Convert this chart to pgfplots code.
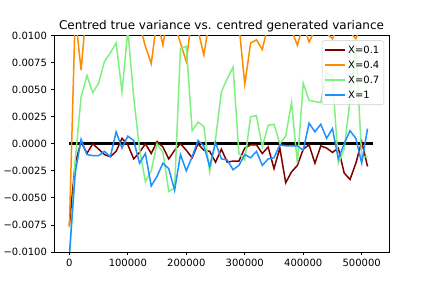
\documentclass[border=0pt]{standalone}
\usepackage{pgfplots}
\pgfplotsset{compat=1.18}
\usepackage{pgfplotstable}
\usepackage{fontspec}
\setmainfont{DejaVu Sans}
\definecolor{cRed}{HTML}{800000}
\definecolor{cOrange}{HTML}{FF8C00}
\definecolor{cGreen}{HTML}{80F080}
\definecolor{cBlue}{HTML}{1E90FF}

\pgfplotstableread{
i a b c d
0 -0.0075 -0.0077 -0.0110 -0.0102
1 -0.0018 0.0120 -0.0015 -0.0027
2 0.0002 0.0068 0.0043 0.0004
3 -0.0009 0.0130 0.0063 -0.0010
4 0.0000 0.0150 0.0047 -0.0011
5 -0.0005 0.0140 0.0056 -0.0011
6 -0.0010 0.0160 0.0076 -0.0007
7 -0.0012 0.0150 0.0084 -0.0012
8 -0.0007 0.0130 0.0093 0.0011
9 0.0005 0.0120 0.0048 -0.0004
10 -0.0001 0.0099 0.0105 0.0007
11 -0.0014 0.0120 0.0043 0.0003
12 -0.0008 0.0110 -0.0005 -0.0018
13 0.0000 0.0090 -0.0035 -0.0009
14 -0.0009 0.0074 -0.0025 -0.0039
15 0.0002 0.0115 0.0000 -0.0030
16 -0.0003 0.0091 -0.0008 -0.0018
17 -0.0014 0.0125 -0.0044 -0.0023
18 -0.0006 0.0110 -0.0041 -0.0043
19 0.0000 0.0093 0.0088 -0.0010
20 -0.0006 0.0076 0.0090 -0.0025
21 -0.0013 0.0120 0.0012 -0.0012
22 0.0000 0.0105 0.0020 0.0003
23 -0.0006 0.0082 0.0016 -0.0002
24 -0.0007 0.0115 -0.0026 -0.0021
25 -0.0017 0.0130 0.0004 0.0001
26 -0.0005 0.0140 0.0048 -0.0014
27 -0.0017 0.0130 0.0060 -0.0015
28 -0.0016 0.0120 0.0071 -0.0024
29 -0.0016 0.0110 -0.0009 -0.0020
30 -0.0004 0.0055 -0.0015 -0.0010
31 -0.0001 0.0093 0.0025 -0.0013
32 -0.0001 0.0096 0.0026 -0.0007
33 -0.0009 0.0087 -0.0003 -0.0020
34 -0.0003 0.0110 0.0017 -0.0014
35 -0.0023 0.0120 0.0018 -0.0013
36 -0.0004 0.0130 0.0000 -0.0001
37 -0.0036 0.0110 0.0007 -0.0002
38 -0.0026 0.0105 0.0038 -0.0002
39 -0.0020 0.0091 -0.0018 -0.0002
40 -0.0005 0.0110 0.0056 -0.0006
41 -0.0001 0.0094 0.0040 0.0019
42 -0.0018 0.0105 0.0039 0.0011
43 -0.0002 0.0110 0.0038 0.0018
44 -0.0004 0.0102 0.0066 0.0005
45 -0.0008 0.0097 0.0062 0.0014
46 -0.0004 0.0110 -0.0018 -0.0014
47 -0.0027 0.0120 -0.0005 0.0000
48 -0.0033 0.0103 0.0040 0.0012
49 -0.0018 0.0097 0.0090 0.0005
50 0.0002 0.0110 -0.0012 -0.0018
51 -0.0021 0.0105 -0.0012 0.0014
}\datatable

\begin{document}
\begin{tikzpicture}
\path[use as bounding box] (0,0) rectangle (432pt,288pt);
\begin{axis}[
  at={(54pt,36pt)}, anchor=south west,
  scale only axis, width=335pt, height=216.5pt,
  xmin=-26300, xmax=546700, ymin=-0.01, ymax=0.01,
  xtick={0,100000,200000,300000,400000,500000},
  xticklabels={0,100000,200000,300000,400000,500000},
  ytick={-0.01,-0.0075,-0.005,-0.0025,0,0.0025,0.005,0.0075,0.01},
  yticklabels={−0.0100,−0.0075,−0.0050,−0.0025,0.0000,0.0025,0.0050,0.0075,0.0100},
  scaled ticks=false,
  tick align=outside, tick pos=left,
  major tick length=3.5pt,
  every tick/.style={black, line width=0.8pt},
  axis line style={line width=0.8pt},
  tick label style={font=\fontsize{10}{12}\selectfont},
  title={Centred true variance vs. centred generated variance},
  title style={font=\fontsize{12}{14}\selectfont, at={(0.5,1)}, anchor=south, yshift=-6pt},
  legend cell align=left,
  legend style={at={(1,1)}, anchor=north east, xshift=-5pt, yshift=-5pt,
    draw=black!20, fill=white, fill opacity=0.8, draw opacity=1, text opacity=1,
    rounded corners=2pt, font=\fontsize{10}{12}\selectfont,
    row sep=0pt, inner sep=2pt,
    nodes={inner sep=2.5pt, text height=8pt, text depth=2pt}},
  legend image code/.code={\draw[#1, line width=1.5pt, draw opacity=1] (0pt,0pt) -- (20pt,0pt);},
]
\addplot[black, line width=2.5pt, forget plot] coordinates {(0,0) (520000,0)};
\addplot[cRed, line width=1.5pt] table[x expr=\thisrow{i}*10000, y=a] {\datatable};
\addlegendentry{X=0.1}
\addplot[cOrange, line width=1.5pt] table[x expr=\thisrow{i}*10000, y=b] {\datatable};
\addlegendentry{X=0.4}
\addplot[cGreen, line width=1.5pt] table[x expr=\thisrow{i}*10000, y=c] {\datatable};
\addlegendentry{X=0.7}
\addplot[cBlue, line width=1.5pt] table[x expr=\thisrow{i}*10000, y=d] {\datatable};
\addlegendentry{X=1}
\end{axis}
\end{tikzpicture}
\end{document}
